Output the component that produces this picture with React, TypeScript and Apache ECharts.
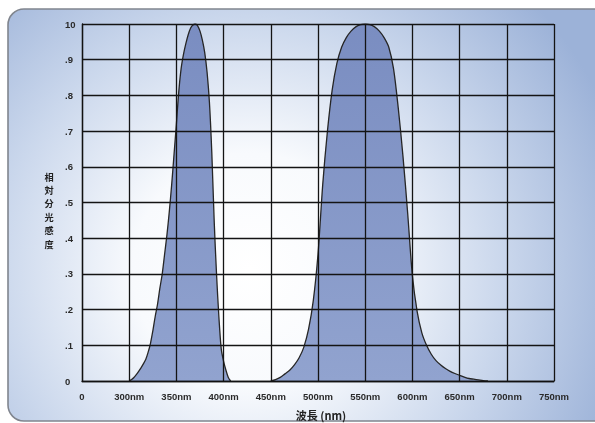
import React, { useEffect, useRef } from "react";
import * as echarts from "echarts";

// Wavelength axis ticks (nm); the first tick is labelled "0"
const xTicks = [250, 300, 350, 400, 450, 500, 550, 600, 650, 700, 750];

// UV-sensitive band (every 2.5 nm)
const uvWavelengths = [300, 302.5, 305, 307.5, 310, 312.5, 315, 317.5, 320, 322.5, 325, 327.5, 330, 332.5, 335, 337.5, 340, 342.5, 345, 347.5, 350, 352.5, 355, 357.5, 360, 362.5, 365, 367.5, 370, 372.5, 375, 377.5, 380, 382.5, 385, 387.5, 390, 392.5, 395, 397.5, 400, 402.5, 405, 407.5];
const uvValues = [0, 0.004, 0.01, 0.018, 0.027, 0.037, 0.048, 0.06, 0.08, 0.105, 0.14, 0.18, 0.215, 0.26, 0.3, 0.355, 0.41, 0.475, 0.55, 0.635, 0.72, 0.81, 0.875, 0.915, 0.945, 0.97, 0.988, 0.997, 1.0, 0.995, 0.98, 0.955, 0.92, 0.865, 0.78, 0.64, 0.45, 0.3, 0.18, 0.09, 0.055, 0.03, 0.01, 0];

// Visible band (every 5 nm)
const visWavelengths = [450, 455, 460, 465, 470, 475, 480, 485, 490, 495, 500, 505, 510, 515, 520, 525, 530, 535, 540, 545, 550, 555, 560, 565, 570, 575, 580, 585, 590, 595, 600, 605, 610, 615, 620, 625, 630, 635, 640, 645, 650, 655, 660, 665, 670, 675, 680];
const visValues = [0, 0.004, 0.01, 0.02, 0.03, 0.045, 0.065, 0.095, 0.145, 0.225, 0.355, 0.55, 0.7, 0.815, 0.89, 0.935, 0.962, 0.98, 0.992, 0.998, 1.0, 0.998, 0.992, 0.98, 0.962, 0.935, 0.875, 0.765, 0.63, 0.47, 0.295, 0.195, 0.135, 0.1, 0.075, 0.057, 0.045, 0.035, 0.027, 0.021, 0.016, 0.011, 0.007, 0.005, 0.003, 0.001, 0];

const yAxisName = "相対分光感度";
const xAxisName = "波長 (nm)";

const zip = (xs: number[], ys: number[]) => xs.map((x, i) => [x, ys[i]]);

export default function App() {
  const ref = useRef<HTMLDivElement>(null);
  useEffect(() => {
    const chart = echarts.init(ref.current!, null, { renderer: "svg" });
    const fill = new echarts.graphic.LinearGradient(0, 0, 0, 1, [
      { offset: 0, color: "#7a8dc1" },
      { offset: 1, color: "#91a3cf" },
    ]);
    const seriesCommon = {
      type: "line",
      smooth: 0.3,
      symbol: "none",
      lineStyle: { color: "#262626", width: 1.3 },
      areaStyle: { color: fill, opacity: 1 },
      z: 2,
    };
    chart.setOption({
      animation: false,
      graphic: [
        {
          type: "rect",
          z: -100,
          shape: { x: 8, y: 9, width: 620, height: 412, r: 16 },
          style: {
            fill: new echarts.graphic.RadialGradient(
              250,
              270,
              390,
              [
                { offset: 0, color: "#ffffff" },
                { offset: 0.3, color: "#f8fafd" },
                { offset: 0.65, color: "#cad7ec" },
                { offset: 1, color: "#9cb2d8" },
              ],
              true
            ),
            stroke: "#80858e",
            lineWidth: 1.6,
          },
        },
        {
          type: "text",
          z: 10,
          x: 49,
          y: 210,
          style: {
            text: yAxisName.split("").join("\n"),
            fontSize: 9.2,
            lineHeight: 13.4,
            fontWeight: "bold",
            fontFamily: "Noto Sans CJK JP",
            fill: "#222",
            align: "center",
            verticalAlign: "middle",
          },
        },
        {
          type: "text",
          z: 10,
          x: 321,
          y: 415,
          style: {
            text: xAxisName,
            fontSize: 11,
            fontWeight: "bold",
            fontFamily: "Noto Sans CJK JP",
            fill: "#222",
            align: "center",
            verticalAlign: "middle",
          },
        },
      ],
      grid: { left: 82, right: 41, top: 24, bottom: 42, containLabel: false },
      xAxis: {
        type: "value",
        min: xTicks[0],
        max: xTicks[xTicks.length - 1],
        interval: 50,
        z: 5,
        axisLine: { show: true, lineStyle: { color: "#111", width: 1.3 } },
        axisTick: { show: false },
        splitLine: { show: true, lineStyle: { color: "#141414", width: 1.3 } },
        axisLabel: {
          margin: 10,
          fontSize: 9.5,
          fontWeight: "bold",
          fontFamily: "Liberation Sans",
          color: "#2a2a2a",
          formatter: (v: number) => (v === xTicks[0] ? "0" : v + "nm"),
        },
      },
      yAxis: {
        type: "value",
        min: 0,
        max: 1,
        interval: 0.1,
        z: 5,
        axisLine: { show: true, lineStyle: { color: "#111", width: 1.3 } },
        axisTick: { show: false },
        splitLine: { show: true, lineStyle: { color: "#141414", width: 1.3 } },
        axisLabel: {
          align: "left",
          margin: 17,
          fontSize: 9.5,
          fontWeight: "bold",
          fontFamily: "Liberation Sans",
          color: "#2a2a2a",
          formatter: (v: number) => {
            const t = Math.round(v * 10);
            if (t === 0) return "0";
            if (t >= 10) return "10";
            return "." + t;
          },
        },
      },
      series: [
        { ...seriesCommon, name: "UV", data: zip(uvWavelengths, uvValues) },
        { ...seriesCommon, name: "Visible", data: zip(visWavelengths, visValues) },
      ],
    });
    return () => chart.dispose();
  }, []);
  return (
    <div
      ref={ref}
      style={{ position: "fixed", left: 0, top: 0, width: 595, height: 423 }}
    />
  );
}
